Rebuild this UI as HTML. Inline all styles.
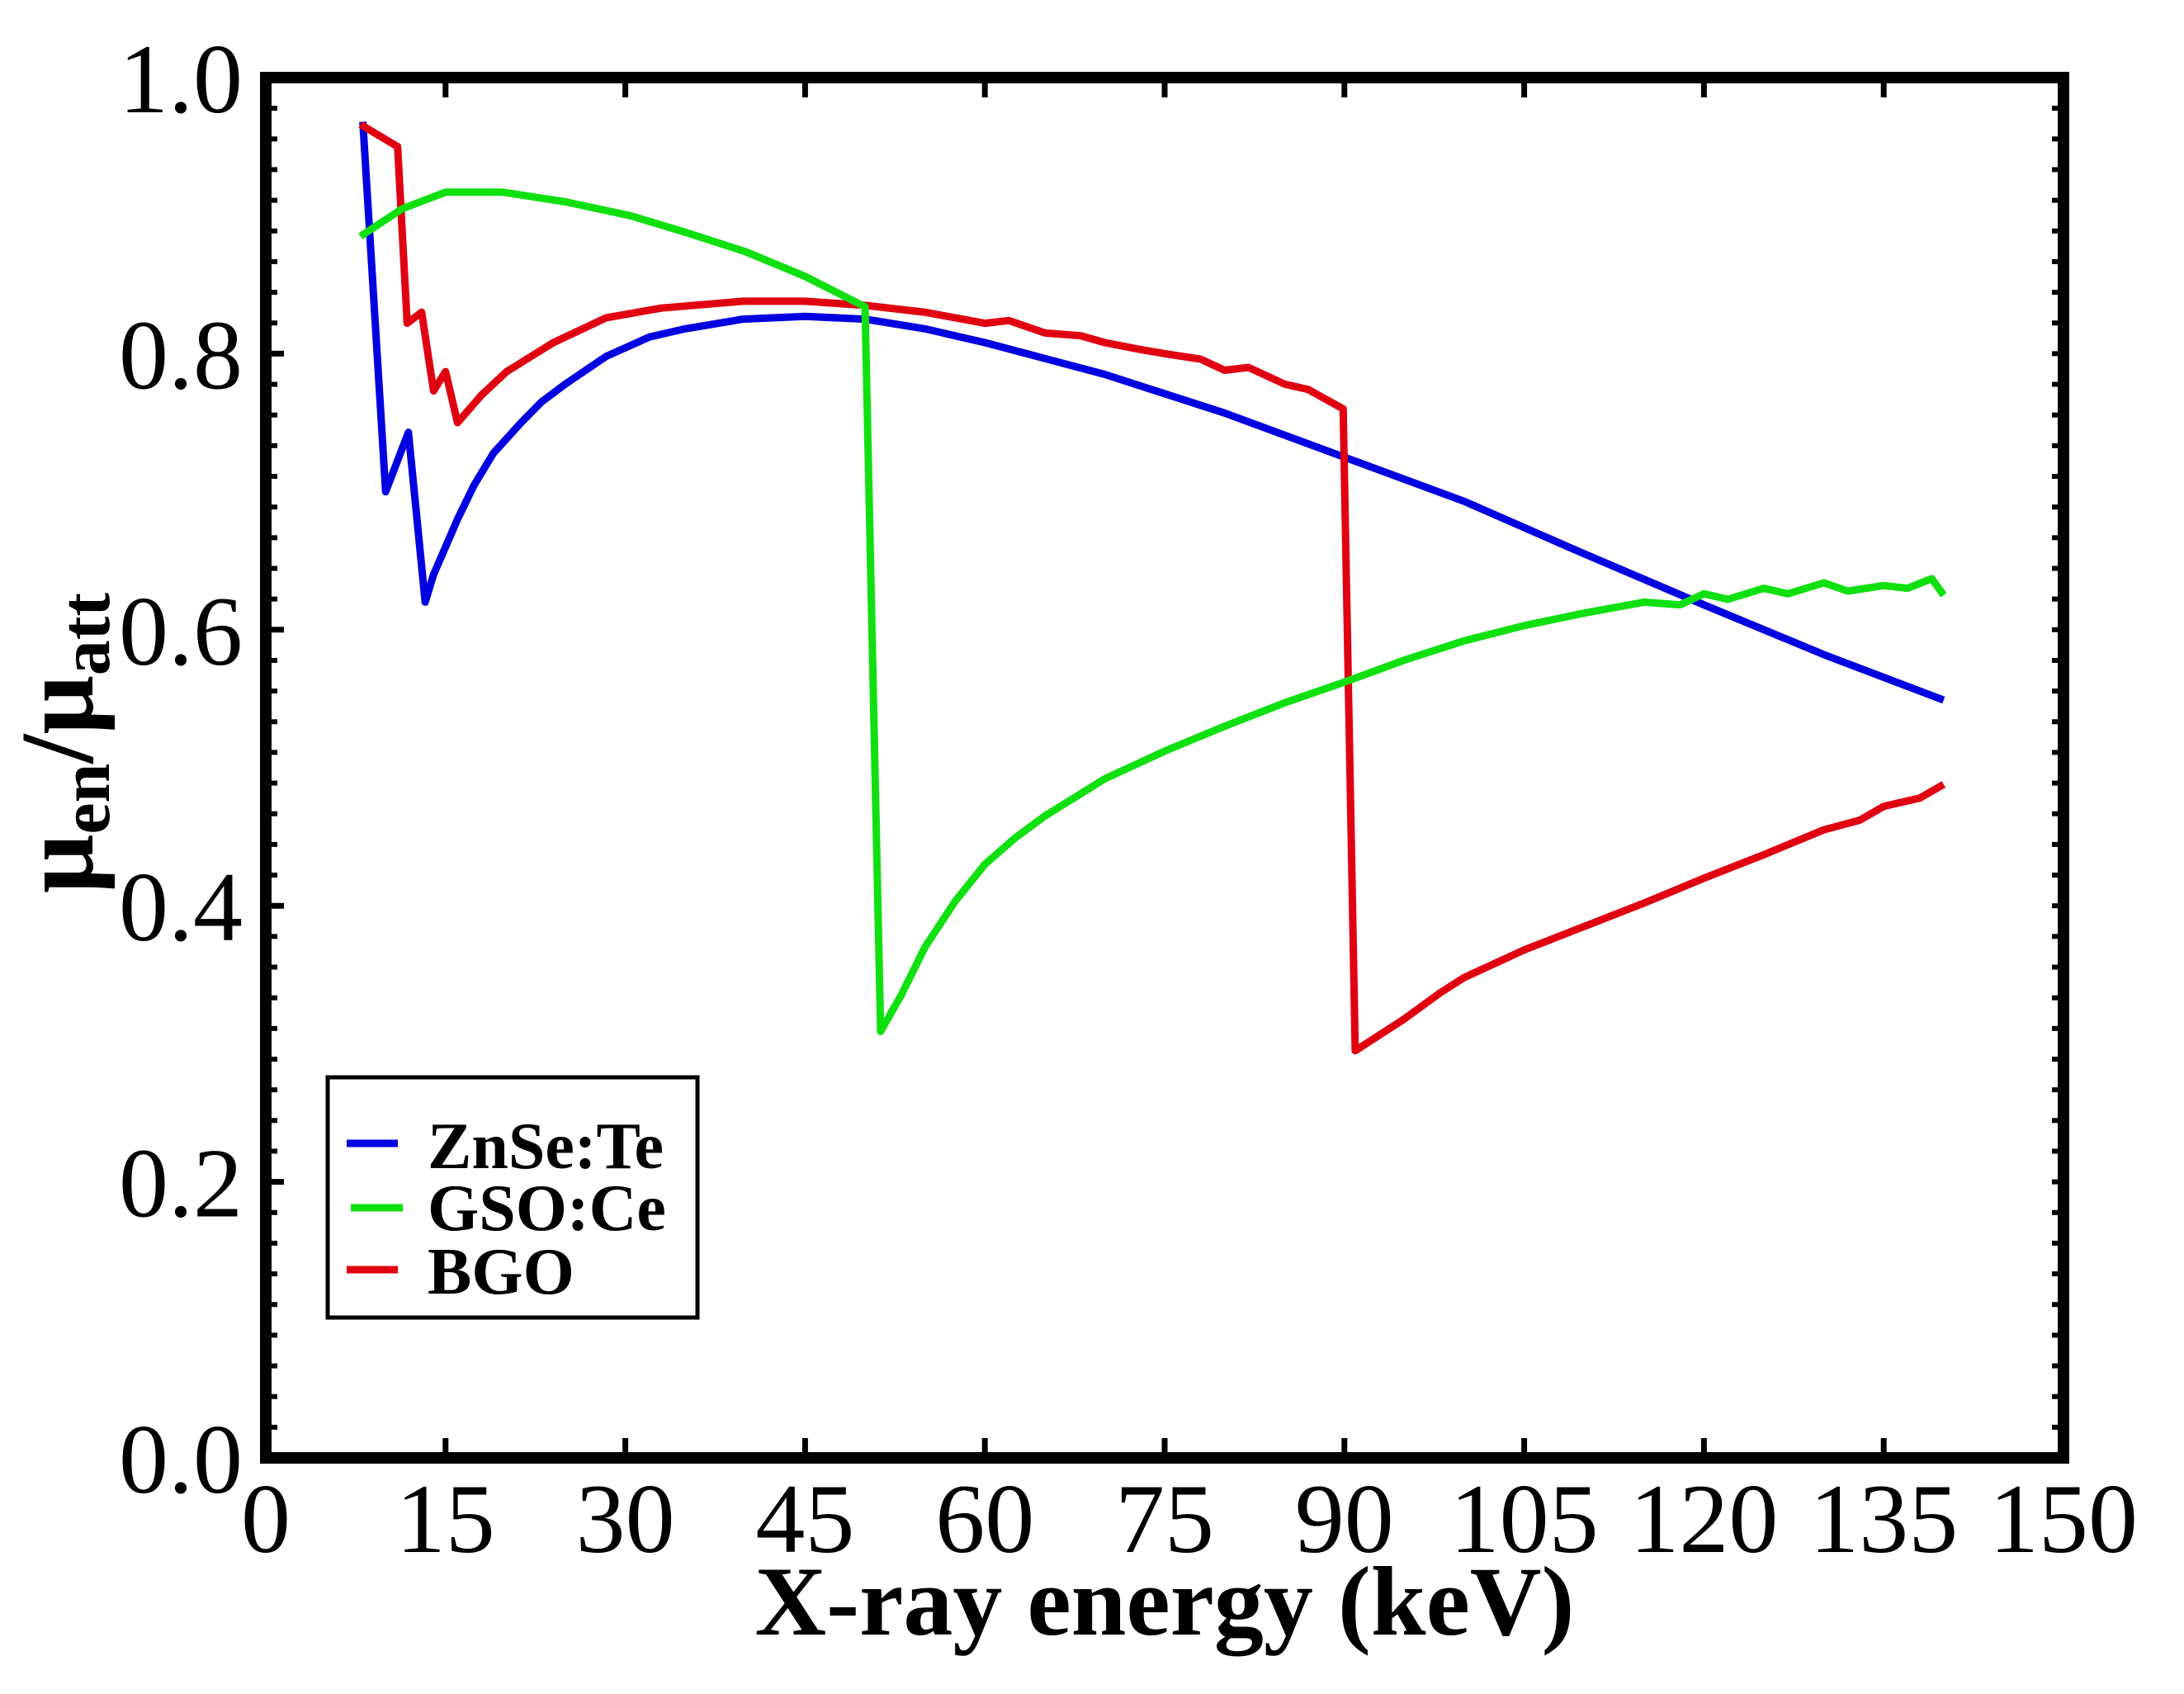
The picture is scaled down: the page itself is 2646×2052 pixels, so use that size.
<!DOCTYPE html>
<html><head><meta charset="utf-8"><style>
html,body{margin:0;padding:0;background:#fff}
svg{display:block}
text{font-family:"Liberation Serif",serif;fill:#000}
</style></head><body>
<svg id="chart" width="2646" height="2052" viewBox="0 0 2646 2052" xmlns="http://www.w3.org/2000/svg">
<rect width="2646" height="2052" fill="#fff"/>
<g id="series"></g>
<g id="axes"></g>
<text x="1411" y="1980" font-size="120" font-weight="bold" text-anchor="middle">X-ray energy (keV)</text>
<text transform="translate(112,900) rotate(-90)" font-size="126" font-weight="bold" text-anchor="middle">μ<tspan font-size="86" dy="20">en</tspan><tspan dy="-20">/μ</tspan><tspan font-size="86" dy="20">att</tspan></text>
<g>
<rect x="397" y="1305" width="448" height="291" fill="#fff" stroke="#000" stroke-width="5"/>
<line x1="420" y1="1385" x2="482" y2="1385" stroke="#0000e0" stroke-width="9"/>
<line x1="425" y1="1463" x2="488" y2="1463" stroke="#10e010" stroke-width="9"/>
<line x1="420" y1="1538" x2="482" y2="1538" stroke="#e00010" stroke-width="9"/>
<text x="518" y="1415" font-size="80" font-weight="bold">ZnSe:Te</text>
<text x="518" y="1490" font-size="80" font-weight="bold">GSO:Ce</text>
<text x="518" y="1567" font-size="80" font-weight="bold">BGO</text>
</g>
</svg>
<script>
const xTicks = [0,15,30,45,60,75,90,105,120,135,150];
const yTicks = [0.0,0.2,0.4,0.6,0.8,1.0];
const yTickLabels = ["0.0","0.2","0.4","0.6","0.8","1.0"];
const znseX = [8.1,10.0,11.9,13.3,14,15,16,17.4,19,21.3,23,25,28.4,32,35,39.8,45,50,55,60,70,80,90,100,110,120,130,140];
const znseY = [0.968,0.70,0.743,0.62,0.64,0.66,0.68,0.705,0.728,0.75,0.765,0.778,0.798,0.812,0.818,0.825,0.827,0.825,0.818,0.808,0.785,0.757,0.725,0.693,0.655,0.618,0.582,0.549];
const gsoX = [7.9,11.4,15,19.8,25,30.4,35,40,45,50,51.3,53,55,57.5,60,62.5,65,70,75,80,85,90,95,100,105,110,115,118,120,122,125,127,130,132,135,137,139,140];
const gsoY = [0.885,0.905,0.917,0.917,0.91,0.9,0.888,0.874,0.856,0.834,0.309,0.335,0.37,0.403,0.43,0.449,0.465,0.492,0.512,0.53,0.547,0.562,0.578,0.592,0.603,0.612,0.62,0.618,0.626,0.622,0.63,0.626,0.634,0.628,0.632,0.63,0.637,0.625];
const bgoX = [7.9,11.0,11.8,13.0,14.0,15.0,16.0,18,20.1,24,28.4,33,39.8,45,50,55,60,62,65,68,70,73,75,78,80,82,85,87,89.9,90.9,95,98,100,105,110,115,120,125,130,133,135,138,140];
const bgoY = [0.966,0.950,0.822,0.830,0.773,0.787,0.750,0.77,0.787,0.808,0.826,0.833,0.838,0.838,0.835,0.83,0.822,0.824,0.815,0.813,0.808,0.803,0.800,0.796,0.788,0.790,0.778,0.774,0.760,0.295,0.318,0.337,0.348,0.368,0.385,0.402,0.42,0.437,0.455,0.462,0.472,0.478,0.488];

const X0=322, X1=2500, Y0=1766, Y1=94;
function X(v){return X0+(v-0)*(X1-X0)/150;}
function Y(v){return Y0-(v-0)*(Y0-Y1)/1.0;}
const NS="http://www.w3.org/2000/svg";
const sg=document.getElementById('series');
const ag=document.getElementById('axes');
function mk(tag,attrs,parent){const e=document.createElementNS(NS,tag);for(const k in attrs)e.setAttribute(k,attrs[k]);parent.appendChild(e);return e;}

function drawSeries(xs,ys,color,name){
  const d=xs.map((x,i)=>(i?'L':'M')+X(x).toFixed(1)+','+Y(ys[i]).toFixed(1)).join(' ');
  const p=mk('path',{d:d,fill:'none',stroke:color,'stroke-width':9,'stroke-linejoin':'round'},sg);
  
  
}
drawSeries(znseX,znseY,'#0000e0','line-znse-te');
drawSeries(bgoX,bgoY,'#e00010','line-bgo');
drawSeries(gsoX,gsoY,'#10e010','line-gso-ce');

for(let i=0;i<=45;i++){
  const v=i*0.2/9, y=Y(v);
  const l1=mk('line',{x1:X0,y1:y,x2:X0+14,y2:y,stroke:'#000','stroke-width':6},ag);
  
  
  const l2=mk('line',{x1:X1,y1:y,x2:X1-14,y2:y,stroke:'#000','stroke-width':6},ag);
  
  
}
yTicks.forEach((v,i)=>{
  const y=Y(v);
  const l=mk('line',{x1:X0,y1:y,x2:X0+22,y2:y,stroke:'#000','stroke-width':7},ag);
  
  
  const t=mk('text',{x:294,y:y+42,'font-size':120,'text-anchor':'end'},ag);
  t.textContent=yTickLabels[i];
  
  
});
xTicks.forEach(v=>{
  const x=X(v);
  const l=mk('line',{x1:x,y1:Y0,x2:x,y2:Y0-24,stroke:'#000','stroke-width':7},ag);
  
  
  const l2=mk('line',{x1:x,y1:Y1,x2:x,y2:Y1+24,stroke:'#000','stroke-width':7},ag);
  
  
  const t=mk('text',{x:x,y:1880,'font-size':120,'text-anchor':'middle'},ag);
  t.textContent=String(v);
  
  
});
const frame=mk('rect',{x:X0,y:Y1,width:X1-X0,height:Y0-Y1,fill:'none',stroke:'#000','stroke-width':14},ag);


</script>
</body></html>
